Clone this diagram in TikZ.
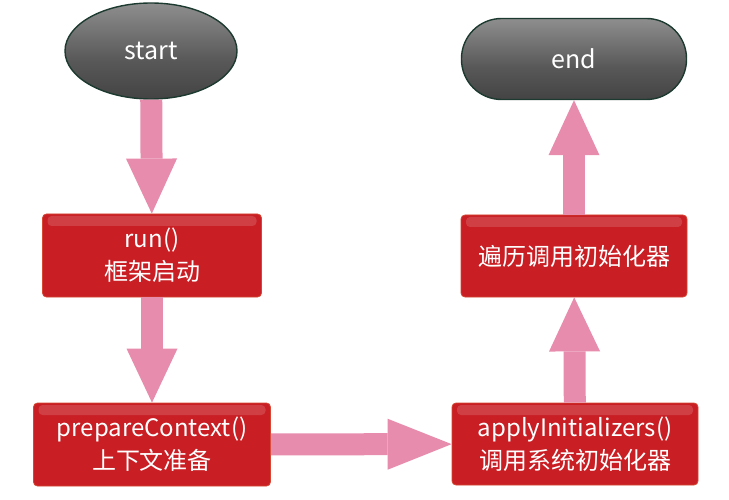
\documentclass[tikz,border=0pt]{standalone}
\usepackage{fontspec}
\setmainfont{Noto Sans CJK SC}
\usetikzlibrary{arrows.meta,shapes.geometric}

\definecolor{boxred}{RGB}{200,30,36}
\definecolor{boxlow}{RGB}{226,110,110}
\definecolor{boxhigh}{RGB}{238,150,150}
\definecolor{boxedge}{RGB}{214,70,50}
\definecolor{darktop}{RGB}{160,160,160}
\definecolor{darkmid}{RGB}{88,88,88}
\definecolor{darklow}{RGB}{42,42,42}
\definecolor{darkedge}{RGB}{28,58,48}
\definecolor{arrowpink}{RGB}{231,140,172}

\pgfdeclareverticalshading{redgloss}{100bp}{color(0bp)=(boxlow); color(8bp)=(boxred); color(84bp)=(boxred); color(92bp)=(boxhigh); color(100bp)=(boxhigh)}
\pgfdeclareverticalshading{darkgloss}{100bp}{color(0bp)=(darklow); color(45bp)=(darkmid); color(85bp)=(darktop); color(100bp)=(darkmid)}

\tikzset{
	redbox/.style={rectangle, rounded corners=4pt, draw=boxedge, line width=.8pt, shading=redgloss, minimum height=83pt, inner sep=0pt, text=white, align=center, font=\fontsize{24}{33}\selectfont,
		path picture={\fill[white, opacity=.15] ([xshift=5pt,yshift=-2pt]path picture bounding box.north west) rectangle ([xshift=-5pt,yshift=-12pt]path picture bounding box.north east);}},
	darknode/.style={draw=darkedge, line width=1.4pt, shading=darkgloss, inner sep=0pt, text=white, font=\fontsize{25}{28}\selectfont},
	bigarrow/.style={line width=22pt, draw=arrowpink},
}

\begin{document}
\begin{tikzpicture}[x=1pt,y=-1pt]
			\useasboundingbox (0,0) rectangle (729,500);
			\path
			(151,51) node[darknode, ellipse, minimum width=172pt, minimum height=96pt] (start) {start}
			(152,255.5) node[redbox, minimum width=219pt] (run) {run()\\框架启动}
			(152,444.5) node[redbox, minimum width=237pt] (prep) {prepareContext()\\上下文准备}
			(575,444) node[redbox, minimum width=246pt, minimum height=82pt] (apply) {applyInitializers()\\调用系统初始化器}
			(574,256) node[redbox, minimum width=226pt, minimum height=82pt] (iter) {遍历调用初始化器}
			(574,59) node[darknode, rectangle, rounded corners=40pt, minimum width=225pt, minimum height=81pt] (end) {end}
			;
			\foreach \a/\b/\l in {start/run/55,run/prep/54,prep/apply/64,apply/iter/54,iter/end/55}
				\draw[bigarrow, -{Triangle[width=51pt,length=\l pt,line width=0pt]}] (\a) -- (\b);
		\end{tikzpicture}
\end{document}
